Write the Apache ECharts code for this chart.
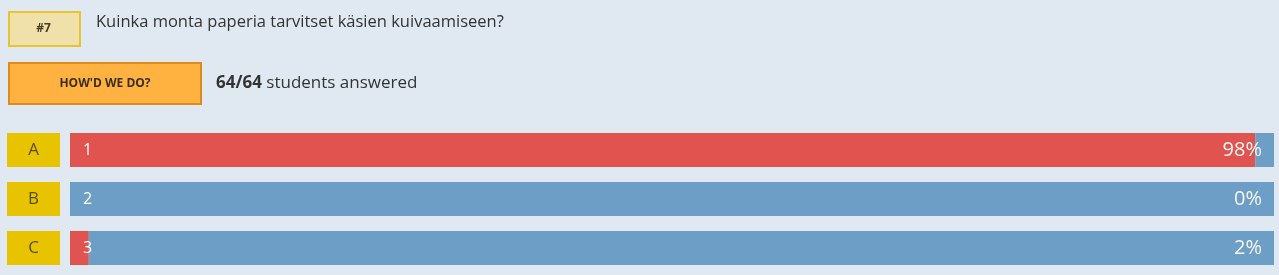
<!DOCTYPE html>
<html><head><meta charset="utf-8">
<script src="https://cdn.jsdelivr.net/npm/echarts@6/dist/echarts.min.js"></script>
<style>html,body{margin:0;padding:0;background:#e0e9f2;}#c{width:1279px;height:275px;}</style>
</head><body><div id="c"></div>
<script>
const categories = ['A', 'B', 'C'];
const answerNumbers = ['1', '2', '3'];
const totalStudents = 64;
const answered = 64;
const correctCounts = [63, 0, 1];
const otherCounts = [1, 64, 63];
const percentLabels = ['98%', '0%', '2%'];
const questionNo = '#7';
const questionText = 'Kuinka monta paperia tarvitset käsien kuivaamiseen?';

const font = '"Open Sans", "Noto Sans", sans-serif';
const chart = echarts.init(document.getElementById('c'), null, {renderer: 'canvas'});
chart.setOption({
  backgroundColor: '#e0e9f2',
  animation: false,
  grid: {left: 70, right: 5, top: 125.5, bottom: 2.5, containLabel: false},
  xAxis: [
    {type: 'value', min: 0, max: totalStudents, show: false},
    {type: 'value', min: 0, max: totalStudents, show: false}
  ],
  yAxis: {
    type: 'category', data: categories, inverse: true,
    axisLine: {show: false}, axisTick: {show: false}, splitLine: {show: false},
    axisLabel: {
      margin: 10,
      formatter: v => '{box|' + v + '}',
      rich: {
        box: {width: 53, height: 34, lineHeight: 34, align: 'center',
          backgroundColor: '#e8c400', color: '#5c4c0c', fontSize: 17, fontFamily: font}
      }
    }
  },
  series: [
    {type: 'bar', stack: 's', data: correctCounts, barWidth: 34, barGap: '-100%',
     itemStyle: {color: '#e0534e'}, silent: true},
    {type: 'bar', stack: 's', data: otherCounts, barWidth: 34, barGap: '-100%',
     itemStyle: {color: '#6d9ec6'}, silent: true},
    {type: 'bar', xAxisIndex: 1, data: categories.map(() => totalStudents), barWidth: 34, barGap: '-100%', z: 5,
     itemStyle: {color: 'rgba(0,0,0,0)'}, silent: true,
     label: {show: true, position: 'insideLeft', distance: 13, color: '#ffffff', fontSize: 16, fontFamily: font,
       formatter: p => answerNumbers[p.dataIndex]}},
    {type: 'bar', xAxisIndex: 1, data: categories.map(() => totalStudents), barWidth: 34, barGap: '-100%', z: 5,
     itemStyle: {color: 'rgba(0,0,0,0)'}, silent: true,
     label: {show: true, position: 'insideRight', distance: 12, color: '#f5f5f5', fontSize: 20, fontFamily: font,
       formatter: p => percentLabels[p.dataIndex]}}
  ],
  graphic: [
    {type: 'rect', left: 8, top: 11, shape: {width: 71, height: 34},
     style: {fill: '#f0e1aa', stroke: '#e8c42e', lineWidth: 2}},
    {type: 'text', x: 43.5, y: 28.5, style: {text: questionNo, font: 'bold 12px ' + font, fill: '#4a3f2a', align: 'center', verticalAlign: 'middle'}},
    {type: 'text', x: 96, y: 22.5, style: {text: questionText, font: '16.5px ' + font, fill: '#333333', verticalAlign: 'middle'}},
    {type: 'rect', left: 8, top: 62, shape: {width: 192, height: 41},
     style: {fill: '#ffb23f', stroke: '#dc8a1c', lineWidth: 2}},
    {type: 'text', x: 105, y: 83.5, style: {text: "HOW'D WE DO?", font: 'bold 12px ' + font, fill: '#3a2e1c', align: 'center', verticalAlign: 'middle'}},
    {type: 'text', x: 216, y: 83, style: {
      text: '{b|' + answered + '/' + totalStudents + '} students answered',
      font: '17px ' + font, fill: '#333333', verticalAlign: 'middle',
      rich: {b: {fontWeight: 'bold', fontSize: 17, fontFamily: font, fill: '#333333'}}
    }}
  ]
});
</script></body></html>
